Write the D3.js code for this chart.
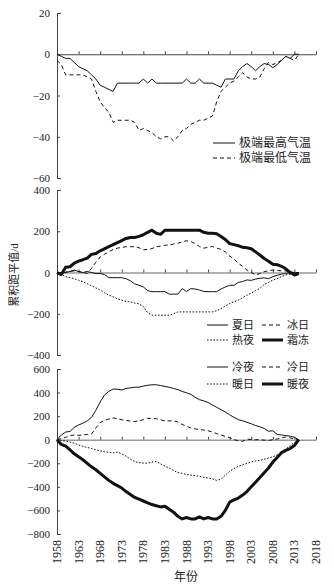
<!DOCTYPE html>
<html>
<head>
<meta charset="utf-8">
<script src="https://cdn.jsdelivr.net/npm/d3@7"></script>
<style>
  body { margin: 0; background: #fff; }
  text { font-family: "Liberation Serif", "Noto Sans CJK SC", serif; fill: #222; }
</style>
</head>
<body>
<svg id="chart" width="334" height="588"></svg>
<script>
const years = d3.range(1958, 2015)
const xTicks = [1958, 1963, 1968, 1973, 1978, 1983, 1988, 1993, 1998, 2003, 2008, 2013, 2018]

// panel 1: extreme temperatures
const txx = [0,-1,-2,-2,-4,-6,-7,-8,-10,-12,-15,-16,-17,-18,-14,-14,-14,-14,-14,-14,-12,-14,-12,-14,-14,-14,-14,-14,-14,-14,-12,-14,-14,-12,-14,-14,-14,-15,-16,-12,-12,-12,-8,-6,-4.5,-6,-8,-6,-4.5,-5,-6.5,-5,-3,-1,-2,0,0]
const tnn = [-3,-5,-10,-10,-10,-10,-10,-11,-12,-18,-23,-26,-28,-33,-32,-32,-32,-32,-33,-37,-36,-37,-38,-40,-41,-40,-40,-42,-40,-37,-36,-34,-33,-32,-32,-31,-30,-23,-18,-16,-14,-13,-11,-9,-11,-12,-12,-11,-7,-4,-5,-4,-3,-1,-2,-3,0]

// panel 2: day counts
const su = [0,-3,0,5,12,5,0,5,0,-5,-5,-10,-25,-25,-25,-25,-30,-40,-55,-62,-70,-88,-93,-93,-93,-93,-105,-105,-105,-78,-92,-78,-80,-85,-92,-93,-93,-93,-80,-70,-62,-62,-48,-44,-36,-38,-32,-28,-26,-30,-20,-14,-8,-5,0,-2,0]
const id = [0,-5,2,5,8,5,0,-5,20,50,75,88,100,112,118,122,125,125,125,120,110,112,116,125,128,132,134,138,142,148,154,150,140,126,118,122,126,118,112,100,80,65,45,30,12,0,-12,-5,4,8,12,10,8,8,4,0,0]
const tr = [0,-10,-20,-25,-30,-38,-45,-55,-64,-75,-85,-98,-110,-118,-128,-134,-140,-142,-148,-152,-165,-195,-207,-207,-207,-207,-207,-200,-191,-191,-191,-191,-191,-191,-191,-191,-191,-185,-175,-162,-150,-142,-134,-122,-110,-100,-88,-77,-58,-48,-37,-30,-20,-12,-8,-3,0]
const fd = [0,-10,25,28,45,55,62,70,88,92,105,115,125,135,145,155,165,170,170,175,183,195,205,190,185,205,205,205,205,205,205,205,205,205,195,190,190,188,175,160,140,135,130,122,120,115,100,85,68,55,40,38,30,18,0,-12,-5]

// panel 3: percentile indices
const tn10p = [0,40,65,70,105,125,140,160,190,250,320,380,410,430,428,422,435,440,445,446,455,462,466,466,460,452,445,435,425,410,398,385,360,340,330,316,295,275,255,235,212,190,170,160,148,135,120,110,95,72,76,45,40,35,30,20,0]
const tx10p = [0,10,20,35,40,37,40,45,48,100,145,165,175,185,178,170,164,158,155,160,170,182,180,178,168,160,160,160,150,130,115,100,92,86,82,76,65,52,40,28,18,2,-10,-14,5,2,0,0,-4,-6,0,6,15,23,15,8,0]
const tx90p = [0,-5,-12,-20,-30,-45,-56,-65,-75,-85,-95,-102,-108,-112,-105,-120,-140,-165,-185,-195,-198,-198,-190,-185,-205,-225,-240,-260,-280,-285,-295,-300,-305,-311,-318,-325,-332,-345,-335,-300,-268,-245,-226,-212,-200,-190,-180,-175,-165,-155,-145,-130,-115,-80,-50,-25,0]
const tn90p = [0,-40,-55,-85,-120,-145,-170,-200,-230,-255,-285,-315,-345,-370,-390,-410,-440,-465,-490,-505,-520,-535,-550,-560,-570,-565,-590,-615,-650,-672,-660,-672,-672,-655,-672,-660,-672,-672,-650,-600,-530,-510,-495,-470,-440,-400,-360,-320,-280,-240,-190,-150,-110,-90,-75,-50,0]

const styles = {
  solid: {dash: null, w: 1},
  dashed: {dash: '4,3', w: 1},
  dotted: {dash: '1.6,1.6', w: 1},
  thick: {dash: null, w: 3}
}

const panels = [
  {top: 13, bottom: 178, domain: [-60, 20], ticks: [20, 0, -20, -40, -60], zeroColor: '#444', zeroWidth: 1,
   series: [
     {name: '极端最高气温', data: txx, style: 'solid'},
     {name: '极端最低气温', data: tnn, style: 'dashed'}
   ],
   legend: {x: 213, y: 143, cols: 1, lineLen: 22, font: 12, rowGap: 15}},
  {top: 190, bottom: 355, domain: [-400, 400], ticks: [400, 200, 0, -200, -400], zeroColor: '#999', zeroWidth: 1.6,
   series: [
     {name: '夏日', data: su, style: 'solid'},
     {name: '冰日', data: id, style: 'dashed'},
     {name: '热夜', data: tr, style: 'dotted'},
     {name: '霜冻', data: fd, style: 'thick'}
   ],
   legend: {x: 207, y: 325, cols: 2, lineLen: 21, font: 11, rowGap: 15, colGap: 55}},
  {top: 369, bottom: 534, domain: [-800, 600], ticks: [600, 400, 200, 0, -200, -400, -600, -800], zeroColor: '#999', zeroWidth: 1.6,
   series: [
     {name: '冷夜', data: tn10p, style: 'solid'},
     {name: '冷日', data: tx10p, style: 'dashed'},
     {name: '暖日', data: tx90p, style: 'dotted'},
     {name: '暖夜', data: tn90p, style: 'thick'}
   ],
   legend: {x: 207, y: 367, cols: 2, lineLen: 21, font: 11, rowGap: 17, colGap: 55}}
]

const svg = d3.select('#chart')
const x = d3.scaleLinear().domain([1958, 2018]).range([57, 316])

panels.forEach(p => {
  const y = d3.scaleLinear().domain(p.domain).range([p.bottom, p.top])
  const g = svg.append('g')

  // y axis, ticks pointing inwards
  const yAxis = d3.axisLeft(y)
    .tickValues(p.ticks)
    .tickSizeInner(-3)
    .tickSizeOuter(-4)
    .tickPadding(7)
  const ya = g.append('g').attr('transform', `translate(${x(1958)},0)`).call(yAxis)
  ya.select('.domain').attr('stroke', '#444')
  ya.selectAll('.tick line').attr('stroke', '#444')
  ya.selectAll('text').style('font-size', '11px').attr('fill', '#222')

  // zero line with year ticks pointing up
  const xAxis = d3.axisTop(x).tickValues(xTicks).tickSize(3).tickSizeOuter(0).tickFormat('')
  const xa = g.append('g').attr('transform', `translate(0,${y(0)})`).call(xAxis)
  xa.select('.domain').attr('stroke', p.zeroColor).attr('stroke-width', p.zeroWidth)
  xa.selectAll('.tick line').attr('stroke', '#444')

  const line = d3.line().x((d, i) => x(years[i])).y(d => y(d))

  p.series.forEach(s => {
    const st = styles[s.style]
    g.append('path')
      .datum(s.data)
      .attr('d', line)
      .attr('fill', 'none')
      .attr('stroke', '#111')
      .attr('stroke-width', st.w)
      .attr('stroke-dasharray', st.dash)
      .attr('stroke-linejoin', 'round')
  })

  // legend
  const L = p.legend
  p.series.forEach((s, i) => {
    const st = styles[s.style]
    const col = i % L.cols
    const row = Math.floor(i / L.cols)
    const lx = L.x + col * (L.colGap || 0)
    const ly = L.y + row * L.rowGap
    g.append('line')
      .attr('x1', lx).attr('x2', lx + L.lineLen)
      .attr('y1', ly).attr('y2', ly)
      .attr('stroke', '#111')
      .attr('stroke-width', st.w)
      .attr('stroke-dasharray', st.dash)
    g.append('text')
      .attr('x', lx + L.lineLen + 4)
      .attr('y', ly)
      .attr('dy', '0.35em')
      .style('font-size', L.font + 'px')
      .text(s.name)
  })
})

// x tick labels, rotated, below the bottom panel
svg.append('g').selectAll('text')
  .data(xTicks)
  .join('text')
  .attr('transform', d => `translate(${x(d) + 4},540) rotate(-90)`)
  .attr('text-anchor', 'end')
  .style('font-size', '12px')
  .text(d => d)

svg.append('text')
  .attr('x', 186).attr('y', 581)
  .attr('text-anchor', 'middle')
  .style('font-size', '12px')
  .text('年份')

svg.append('text')
  .attr('transform', 'translate(18,275) rotate(-90)')
  .attr('text-anchor', 'middle')
  .style('font-size', '11px')
  .text('累积距平值/d')
</script>
</body>
</html>
